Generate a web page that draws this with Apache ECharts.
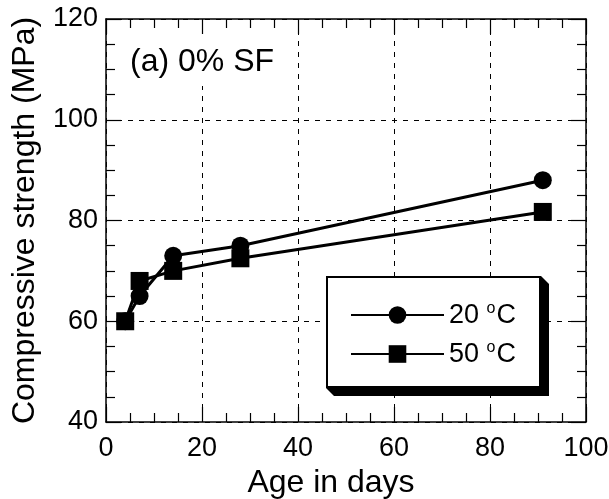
<!DOCTYPE html>
<html>
<head>
<meta charset="utf-8">
<script src="https://cdn.jsdelivr.net/npm/echarts@6/dist/echarts.min.js"></script>
<style>
html,body{margin:0;padding:0;background:#fff;}
#chart{width:609px;height:499px;}
</style>
</head>
<body>
<div id="chart"></div>
<script>
// Data
var ages20 = [4, 7, 14, 28, 91];
var strength20 = [60, 65, 73, 75, 88];
var ages50 = [4, 7, 14, 28, 91];
var strength50 = [60, 68, 70, 72.5, 81.7];
var seriesNames = ['20 oC', '50 oC'];
var xTicks = [0, 20, 40, 60, 80, 100];
var yTicks = [40, 60, 80, 100, 120];
var titleText = '(a) 0% SF';
var xName = 'Age in days';
var yName = 'Compressive strength (MPa)';

function pairs(xs, ys) { return xs.map(function (x, i) { return [x, ys[i]]; }); }

var FONT = 'Liberation Sans, Arial, sans-serif';
var chart = echarts.init(document.getElementById('chart'));

var baseAxis = {
  type: 'value',
  axisLine: { show: true, onZero: false, lineStyle: { color: '#000', width: 1.5 } },
  axisTick: { show: true, inside: true, length: 15, lineStyle: { color: '#000', width: 1.2 } },
  minorTick: { show: true, splitNumber: 4, length: 9, lineStyle: { color: '#000', width: 1.2 } },
  splitLine: { show: false }
};

function mk(extra) { return Object.assign({}, JSON.parse(JSON.stringify(baseAxis)), extra); }

var option = {
  backgroundColor: '#fff',
  animation: false,
  textStyle: { fontFamily: FONT },
  title: {
    text: titleText,
    left: 124, top: 20, z: 5,
    padding: [26, 6, 8, 6],
    backgroundColor: '#fff',
    textStyle: { fontSize: 32, fontWeight: 'normal', color: '#000', fontFamily: FONT }
  },
  grid: { left: 106, right: 23, top: 19, bottom: 77, containLabel: false, outerBoundsMode: 'none' },
  xAxis: [
    mk({
      position: 'bottom', min: xTicks[0], max: xTicks[xTicks.length - 1], interval: 20,
      name: xName, nameLocation: 'middle', nameGap: 41,
      nameTextStyle: { fontSize: 32, color: '#000', fontFamily: FONT, padding: [0, 30, 0, 0] },
      axisLabel: { show: true, fontSize: 27, color: '#000', margin: 13, fontFamily: FONT },
      splitLine: { show: true, lineStyle: { color: '#000', width: 1, type: [5, 6] } }
    }),
    mk({
      position: 'top', min: xTicks[0], max: xTicks[xTicks.length - 1], interval: 20, z: 10,
      axisLabel: { show: false }
    })
  ],
  yAxis: [
    mk({
      position: 'left', min: yTicks[0], max: yTicks[yTicks.length - 1], interval: 20,
      name: yName, nameLocation: 'middle', nameGap: 65,
      nameTextStyle: { fontSize: 32, color: '#000', fontFamily: FONT },
      axisLabel: { show: true, fontSize: 27, color: '#000', margin: 8, fontFamily: FONT },
      splitLine: { show: true, lineStyle: { color: '#000', width: 1, type: [5, 6] } }
    }),
    mk({
      position: 'right', min: yTicks[0], max: yTicks[yTicks.length - 1], interval: 20, z: 10,
      axisLabel: { show: false }
    })
  ],
  graphic: [
    {
      type: 'polygon', z: 50,
      shape: { points: [[326, 276], [541, 276], [549, 284], [549, 396], [334, 396], [326, 388]] },
      style: { fill: '#000' }
    },
    {
      type: 'rect', z: 51,
      shape: { x: 327, y: 277, width: 213, height: 110 },
      style: { fill: '#fff', stroke: '#000', lineWidth: 2 }
    }
  ],
  legend: {
    z: 60,
    orient: 'vertical',
    left: 345, top: 296,
    itemWidth: 93, itemHeight: 22,
    itemGap: 11,
    data: seriesNames,
    formatter: function (name) {
      var p = name.split(' ');
      return '{a|' + p[0] + ' }{s|o}{a|C}';
    },
    textStyle: {
      color: '#000', fontFamily: FONT, padding: [0, 0, 0, 0],
      rich: {
        a: { fontSize: 27, color: '#000', fontFamily: FONT, verticalAlign: 'bottom', lineHeight: 28 },
        s: { fontSize: 16, color: '#000', fontFamily: FONT, verticalAlign: 'top', lineHeight: 28, padding: [0, 1, 12, 0] }
      }
    }
  },
  series: [
    {
      name: seriesNames[0], type: 'line',
      data: pairs(ages20, strength20),
      symbol: 'circle', symbolSize: 18,
      lineStyle: { color: '#000', width: 3 },
      itemStyle: { color: '#000' },
      z: 3
    },
    {
      name: seriesNames[1], type: 'line',
      data: pairs(ages50, strength50),
      symbol: 'rect', symbolSize: 18,
      lineStyle: { color: '#000', width: 3 },
      itemStyle: { color: '#000' },
      z: 4
    }
  ]
};
chart.setOption(option);
</script>
</body>
</html>
